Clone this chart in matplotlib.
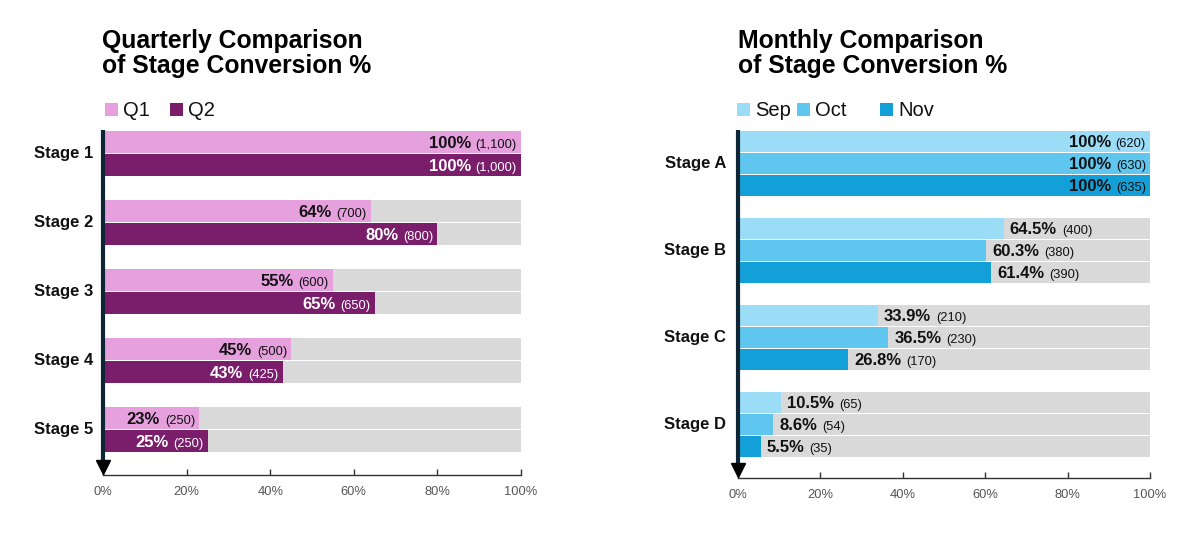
import matplotlib
matplotlib.use("Agg")
import matplotlib.pyplot as plt
from matplotlib.patches import Rectangle
from matplotlib.transforms import blended_transform_factory

plt.rcParams['font.family'] = ['Liberation Sans', 'DejaVu Sans']

# ---------------- data ----------------
q_stages = ["Stage 1", "Stage 2", "Stage 3", "Stage 4", "Stage 5"]
q_series = ["Q1", "Q2"]
q1_pct = [100, 64, 55, 45, 23]
q1_cnt = [1100, 700, 600, 500, 250]
q2_pct = [100, 80, 65, 43, 25]
q2_cnt = [1000, 800, 650, 425, 250]

m_stages = ["Stage A", "Stage B", "Stage C", "Stage D"]
m_series = ["Sep", "Oct", "Nov"]
sep_pct = [100, 64.5, 33.9, 10.5]
sep_cnt = [620, 400, 210, 65]
oct_pct = [100, 60.3, 36.5, 8.6]
oct_cnt = [630, 380, 230, 54]
nov_pct = [100, 61.4, 26.8, 5.5]
nov_cnt = [635, 390, 170, 35]

tick_vals = [0, 20, 40, 60, 80, 100]
tick_labels = ["0%", "20%", "40%", "60%", "80%", "100%"]

# ---------------- style ----------------
W, H = 1200, 539
GRAY = "#D9D9D9"
AXIS_DARK = "#0D2535"
q_colors = ["#E6A0DE", "#7A1E6C"]
q_text = ["#111111", "#FFFFFF"]
m_colors = ["#9BDCF7", "#5EC6EF", "#139FD7"]
m_text = ["#111111", "#111111", "#111111"]

PCT_FS = 12
CNT_FS = 9.3
BASE_OFF = -4.2
GAP_PX = 5

fig = plt.figure(figsize=(W / 100, H / 100), dpi=100)
PX = 72 / 100  # points per pixel


def fx(px):
    return px / W


def fy(py):
    return 1 - py / H


def make_chart(rect, title_x, title_lines, legend_items, stages, series_vals,
               series_cnts, colors, tcolors, ylim, bar_h, offsets, inside_rule,
               label_pad_px):
    left_px, top_px, right_px, bottom_px = rect
    ax = fig.add_axes([fx(left_px), fy(bottom_px), fx(right_px - left_px),
                       (bottom_px - top_px) / H])
    n = len(stages)
    ypos = list(range(n))
    for s, (vals, cnts) in enumerate(zip(series_vals, series_cnts)):
        yy = [y + offsets[s] for y in ypos]
        ax.barh(yy, [1.0] * n, height=bar_h, color=GRAY, zorder=1)
        ax.barh(yy, [v / 100 for v in vals], height=bar_h, color=colors[s], zorder=2)
        for y, v, c in zip(yy, vals, cnts):
            pct_s = f"{v:g}%"
            cnt_s = f"({c:,})"
            if inside_rule(v):
                ct = ax.annotate(cnt_s, xy=(v / 100, y), xytext=(-4 * PX, BASE_OFF),
                                 textcoords="offset points", ha="right", va="baseline",
                                 fontsize=CNT_FS, color=tcolors[s], zorder=3)
                ax.annotate(pct_s, xy=(0, y), xycoords=(ct, "data"),
                            xytext=(-GAP_PX * PX, BASE_OFF), textcoords="offset points",
                            ha="right", va="baseline", fontsize=PCT_FS,
                            fontweight="bold", color=tcolors[s], zorder=3)
            else:
                pt = ax.annotate(pct_s, xy=(v / 100, y), xytext=(6 * PX, BASE_OFF),
                                 textcoords="offset points", ha="left", va="baseline",
                                 fontsize=PCT_FS, fontweight="bold", color="#111111",
                                 zorder=3)
                ax.annotate(cnt_s, xy=(1, y), xycoords=(pt, "data"),
                            xytext=(GAP_PX * PX, BASE_OFF), textcoords="offset points",
                            ha="left", va="baseline", fontsize=CNT_FS,
                            color="#111111", zorder=3)
    ax.set_xlim(0, 1)
    ax.set_ylim(*ylim)
    ax.set_yticks([])
    ax.set_xticks([t / 100 for t in tick_vals])
    ax.set_xticklabels(tick_labels)
    for sp in ("left", "top", "right"):
        ax.spines[sp].set_visible(False)
    ax.spines["bottom"].set_color("#333333")
    ax.spines["bottom"].set_linewidth(1)
    ax.tick_params(axis="x", direction="in", length=4, width=1, color="#333333",
                   labelsize=9.3, labelcolor="#555555", pad=8)
    ax.set_facecolor("none")

    # stage labels
    for y, st in zip(ypos, stages):
        ax.annotate(st, xy=(0, y), xycoords=("axes fraction", "data"),
                    xytext=(-label_pad_px * PX, 0), textcoords="offset points",
                    ha="right", va="center", fontsize=12, fontweight="bold",
                    color="#111111")

    # vertical arrow axis
    h_px = bottom_px - top_px
    tr = blended_transform_factory(ax.transAxes, ax.transAxes)
    ax.plot([0, 0], [1.0, 12 / h_px], transform=tr, color=AXIS_DARK, lw=3,
            clip_on=False, zorder=4, solid_capstyle="butt")
    ax.plot([0], [8 / h_px], transform=tr, marker="v", markersize=9.5,
            color="#000000", clip_on=False, zorder=5, linestyle="none")

    # titles
    for i, line in enumerate(title_lines):
        fig.text(fx(title_x), fy(48 + 25 * i), line, ha="left", va="baseline",
                 fontsize=17.8, fontweight="bold", color="#000000")

    # legend
    for (sx, label, col) in legend_items:
        fig.add_artist(Rectangle((fx(sx), fy(116)), fx(13), 13 / H,
                                 transform=fig.transFigure, color=col, lw=0))
        fig.text(fx(sx + 18), fy(116.5), label, ha="left", va="baseline",
                 fontsize=14.5, color="#111111")
    return ax


make_chart((103, 130, 521, 475), 102,
           ["Quarterly Comparison", "of Stage Conversion %"],
           [(105, q_series[0], q_colors[0]), (170, q_series[1], q_colors[1])],
           q_stages, [q1_pct, q2_pct], [q1_cnt, q2_cnt], q_colors, q_text,
           ((475 - 153.5) / 69, (130 - 153.5) / 69), 22 / 69,
           [-11.5 / 69, 11.5 / 69], lambda v: True, 10)

make_chart((738, 130, 1150, 478), 738,
           ["Monthly Comparison", "of Stage Conversion %"],
           [(737, m_series[0], m_colors[0]), (797, m_series[1], m_colors[1]),
            (880, m_series[2], m_colors[2])],
           m_stages, [sep_pct, oct_pct, nov_pct], [sep_cnt, oct_cnt, nov_cnt],
           m_colors, m_text,
           ((478 - 163.5) / 87, (130 - 163.5) / 87), 21 / 87,
           [-22 / 87, 0, 22 / 87], lambda v: v >= 99.5, 12)

fig.savefig("out.png", dpi=100, facecolor="white")
